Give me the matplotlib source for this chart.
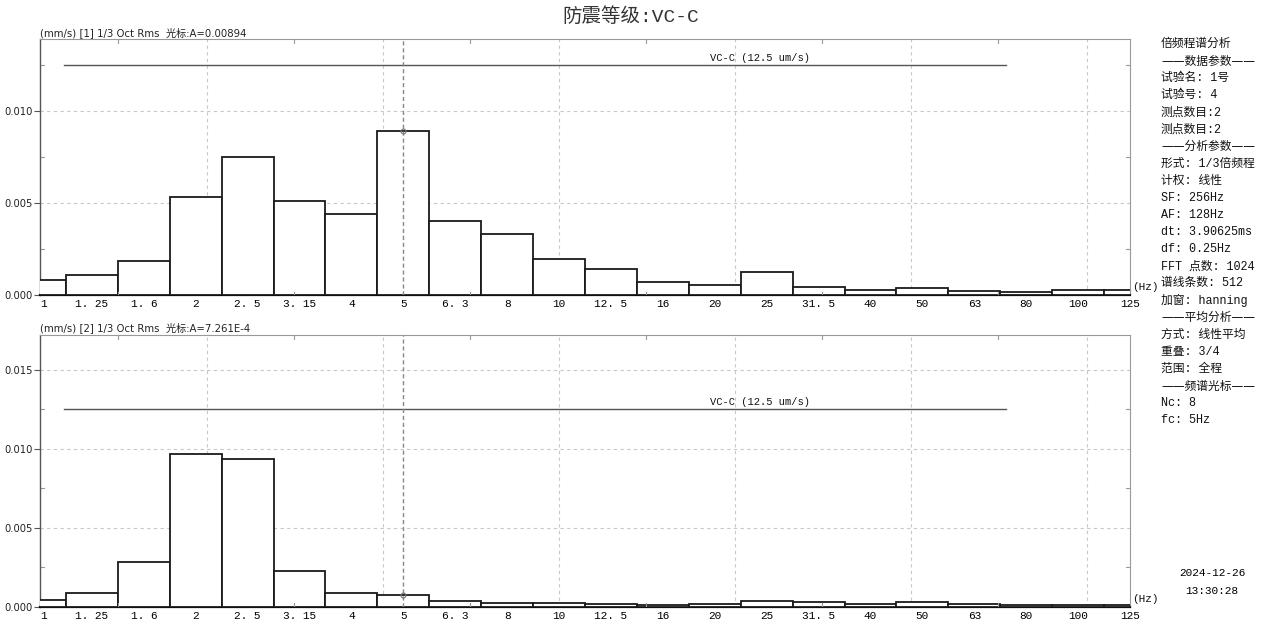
import numpy as np
import matplotlib
matplotlib.use('Agg')
import matplotlib.pyplot as plt

# 1/3 octave bands
bands = ['1', '1.25', '1.6', '2', '2.5', '3.15', '4', '5', '6.3', '8', '10', '12.5',
         '16', '20', '25', '31.5', '40', '50', '63', '80', '100', '125']
tick_labels = ['1', '1. 25', '1. 6', '2', '2. 5', '3. 15', '4', '5', '6. 3', '8', '10', '12. 5',
               '16', '20', '25', '31. 5', '40', '50', '63', '80', '100', '125']
rms_1 = [0.00082, 0.00109, 0.00185, 0.00533, 0.0075, 0.00511, 0.0044, 0.00894, 0.00402,
         0.00332, 0.00196, 0.00141, 0.00071, 0.00054, 0.00125, 0.00043, 0.00027, 0.00038,
         0.00022, 0.00016, 0.00027, 0.00027]
rms_2 = [0.00042, 0.00085, 0.00281, 0.00968, 0.00937, 0.00226, 0.00085, 0.0007261, 0.00034,
         0.00025, 0.00021, 0.00015, 0.00009, 0.00015, 0.00035, 0.00028, 0.0002, 0.00027,
         0.00015, 0.00008, 0.00008, 0.00008]
headers = ['(mm/s) [1] 1/3 Oct Rms  光标:A=0.00894',
           '(mm/s) [2] 1/3 Oct Rms  光标:A=7.261E-4']
vc_limit = 0.0125  # mm/s
vc_label = 'VC-C (12.5 um/s)'
cursor_idx = 7  # 5 Hz
ymax = [0.0139, 0.0172]
yticks = [[0.0, 0.005, 0.010], [0.0, 0.005, 0.010, 0.015]]

panel_lines = ['倍频程谱分析', '——数据参数——', '试验名: 1号', '试验号: 4', '测点数目:2',
               '测点数目:2', '——分析参数——', '形式: 1/3倍频程', '计权: 线性',
               'SF: 256Hz', 'AF: 128Hz', 'dt: 3.90625ms', 'df: 0.25Hz',
               'FFT 点数: 1024', '谱线条数: 512', '加窗: hanning', '——平均分析——',
               '方式: 线性平均', '重叠: 3/4', '范围: 全程', '——频谱光标——',
               'Nc: 8', 'fc: 5Hz']
date_str = '2024-12-26'
time_str = '13:30:28'

MONO = ['Liberation Mono', 'Noto Sans CJK SC']
SANS = ['DejaVu Sans', 'Noto Sans CJK SC']

W, H = 1263, 622
fig = plt.figure(figsize=(W / 100, H / 100), dpi=100)
fig.patch.set_facecolor('white')

fig.text(631 / W, 1 - 17 / H, '防震等级:VC-C', ha='center', va='center',
         fontsize=14, family=MONO, color='#333')

# axes boxes in pixels: (top, bottom)
boxes = [(39.3, 295.0), (335.0, 606.7)]
x = np.arange(len(bands))
grid_x = 3.217 + 3.39 * np.arange(6)
minor_x = 1.51 + 3.39 * np.arange(6)

for k, vals in enumerate([rms_1, rms_2]):
    top, bot = boxes[k]
    ax = fig.add_axes([40 / W, 1 - bot / H, 1090 / W, (bot - top) / H])
    ax.set_xlim(0, 21)
    ax.set_ylim(0, ymax[k])

    ax.bar(x, vals, width=1.0, color='white', edgecolor='#1a1a1a', linewidth=1.3, zorder=3)

    # grid
    for gx in grid_x:
        ax.axvline(gx, color='#c8c8c8', lw=0.8, ls=(0, (3, 3)), zorder=1)
    for gy in yticks[k][1:]:
        ax.axhline(gy, color='#c8c8c8', lw=0.8, ls=(0, (3, 3)), zorder=1)

    # minor ticks (inward, top and bottom)
    for mx in minor_x:
        ax.plot([mx, mx], [ymax[k], ymax[k] * 0.985], color='#999', lw=0.8, zorder=2)
        ax.plot([mx, mx], [0, ymax[k] * 0.012], color='#999', lw=0.8, zorder=4)
    for my in [0.0025, 0.0075, 0.0125]:
        if my < ymax[k]:
            ax.plot([0, 0.07], [my, my], color='#999', lw=0.8, zorder=2)
            ax.plot([20.93, 21], [my, my], color='#999', lw=0.8, zorder=2)

    # VC-C criterion line
    ax.plot([0.46, 18.61], [vc_limit, vc_limit], color='#555', lw=1.0, zorder=4)
    ax.text(12.91, vc_limit + ymax[k] * 0.008, vc_label, fontsize=7.5, family=MONO,
            ha='left', va='bottom', color='#111')

    # cursor
    ax.axvline(cursor_idx, color='#888', lw=1.0, ls=(0, (3, 2)), zorder=5)
    ax.plot(cursor_idx, vals[cursor_idx], marker='o', ms=3.5, mfc='none', mec='#777',
            mew=0.8, zorder=6)

    ax.set_xticks(x)
    ax.set_xticklabels(tick_labels, family=MONO, fontsize=8)
    ax.get_xticklabels()[0].set_horizontalalignment('left')
    ax.tick_params(axis='x', length=0, pad=3)
    ax.set_yticks(yticks[k])
    ax.set_yticklabels(['%.3f' % v for v in yticks[k]], fontsize=7.2, color='#222')
    ax.tick_params(axis='y', length=4, width=0.8, color='#555', pad=1)

    for side in ['top', 'right']:
        ax.spines[side].set_color('#999')
        ax.spines[side].set_linewidth(0.8)
    ax.spines['left'].set_color('#555')
    ax.spines['left'].set_linewidth(1.0)
    ax.spines['bottom'].set_color('#111')
    ax.spines['bottom'].set_linewidth(1.6)

    fig.text(40 / W, 1 - (top - 7) / H, headers[k], fontsize=7.3, family=SANS,
             ha='left', va='center', color='#222')
    fig.text(1132 / W, 1 - (bot - 8) / H, '(Hz)', fontsize=8, family=MONO,
             ha='left', va='center', color='#111')

# right info panel
for i, line in enumerate(panel_lines):
    fam = SANS if line.startswith('——') else MONO
    fig.text(1161 / W, 1 - (44 + 17.1 * i) / H, line, fontsize=8.5, family=fam,
             ha='left', va='center', color='#111')
fig.text(1212 / W, 1 - 573 / H, date_str, fontsize=8, family=MONO, ha='center', va='center')
fig.text(1212 / W, 1 - 591 / H, time_str, fontsize=8, family=MONO, ha='center', va='center')

fig.savefig('out.png', dpi=100, facecolor='white')
